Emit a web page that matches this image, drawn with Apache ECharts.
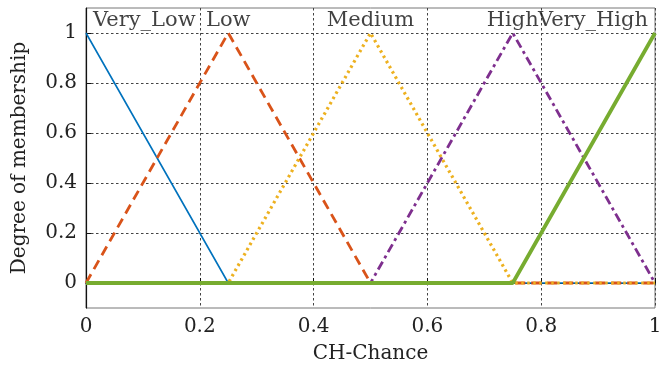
<!DOCTYPE html>
<html>
<head>
<meta charset="utf-8">
<script src="https://cdn.jsdelivr.net/npm/echarts@6/dist/echarts.min.js"></script>
<style>
  html, body { margin: 0; padding: 0; background: #fff; }
  #chart { width: 670px; height: 369px; }
</style>
</head>
<body>
<div id="chart"></div>
<script>
// Membership functions of the CH-Chance fuzzy variable (triangular MFs)
const mfNames = ['Very_Low', 'Low', 'Medium', 'High', 'Very_High'];
const veryLow  = [[0, 1], [0.25, 0], [1, 0]];
const low      = [[0, 0], [0.25, 1], [0.5, 0], [1, 0]];
const medium   = [[0, 0], [0.25, 0], [0.5, 1], [0.75, 0], [1, 0]];
const high     = [[0, 0], [0.5, 0], [0.75, 1], [1, 0]];
const veryHigh = [[0, 0], [0.75, 0], [1, 1]];
const mfCurves = [veryLow, low, medium, high, veryHigh];

// Where each MF name is written along the top of the plot
const nameX = [0, 0.25, 0.5, 0.75, 1];
const nameY = 1.048;

const xTicks = [0, 0.2, 0.4, 0.6, 0.8, 1];
const yTicks = [0, 0.2, 0.4, 0.6, 0.8, 1];

const colors = ['#0072BD', '#D95319', '#EDB120', '#7E2F8E', '#77AC30'];
const widths = [1.6, 2.8, 3.2, 2.8, 3.8];
const dashes = ['solid', [10, 6], [2.5, 3.5], [9, 4, 3, 4], 'solid'];
const nameAlign = ['left', 'center', 'center', 'center', 'right'];
const nameShift = [7, 0, 0, 0, -7];

const serif = 'DejaVu Serif';

const chart = echarts.init(document.getElementById('chart'), null, { renderer: 'canvas' });

const lineSeries = mfCurves.map((pts, i) => ({
  name: mfNames[i],
  type: 'line',
  data: pts,
  symbol: 'none',
  z: 3 + i,
  clip: false,
  lineStyle: { color: colors[i], width: widths[i], type: dashes[i], cap: 'butt' },
  animation: false
}));

const nameSeries = {
  type: 'scatter',
  symbolSize: 0,
  z: 20,
  silent: true,
  animation: false,
  data: mfNames.map((n, i) => ({
    value: [nameX[i], nameY],
    label: {
      show: true,
      formatter: n,
      position: 'inside',
      align: nameAlign[i],
      verticalAlign: 'middle',
      offset: [nameShift[i], 0],
      fontFamily: serif,
      fontSize: 21,
      color: '#111'
    }
  }))
};

const gridLine = { show: true, lineStyle: { color: '#444', type: [2.5, 2.5], width: 1 } };

const option = {
  backgroundColor: '#fff',
  animation: false,
  grid: {
    left: 86, right: 15, top: 8, bottom: 61,
    show: true, borderColor: '#777', borderWidth: 1
  },
  xAxis: {
    type: 'value',
    min: 0, max: 1, interval: 0.2,
    name: 'CH-Chance',
    nameLocation: 'middle',
    nameGap: 36,
    nameTextStyle: { fontFamily: serif, fontSize: 20, color: '#222' },
    axisLine: { show: true, lineStyle: { color: '#111', width: 1.2 } },
    axisTick: { show: true, inside: true, length: 5, lineStyle: { color: '#111' } },
    axisLabel: {
      fontFamily: serif, fontSize: 20, color: '#222', margin: 9,
      formatter: v => String(+v.toFixed(1))
    },
    splitLine: gridLine
  },
  yAxis: {
    type: 'value',
    min: -0.1, max: 1.1,
    name: 'Degree of membership',
    nameLocation: 'middle',
    nameGap: 56,
    nameTextStyle: { fontFamily: serif, fontSize: 20, color: '#222' },
    axisLine: { show: true, lineStyle: { color: '#111', width: 1.2 } },
    axisTick: { show: true, inside: true, length: 5, customValues: yTicks, lineStyle: { color: '#111' } },
    axisLabel: {
      fontFamily: serif, fontSize: 20, color: '#222', margin: 9,
      customValues: yTicks,
      formatter: v => String(+v.toFixed(1))
    },
    splitLine: gridLine
  },
  series: lineSeries.concat([nameSeries])
};

chart.setOption(option);
</script>
</body>
</html>
